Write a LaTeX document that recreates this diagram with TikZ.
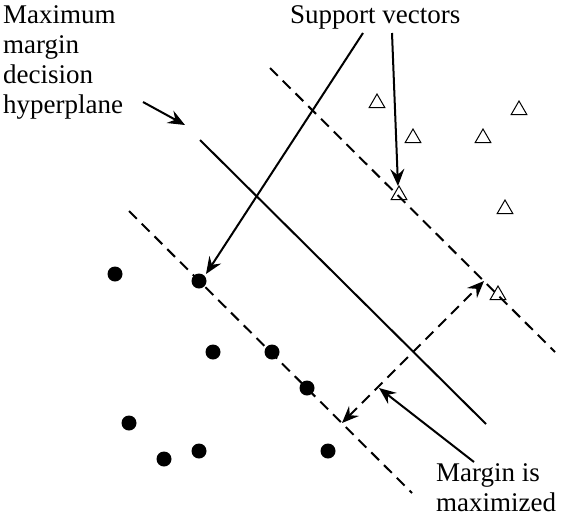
\documentclass[tikz,border=0pt]{standalone}
\usepackage{fontspec}
\setmainfont{Liberation Serif}
\usetikzlibrary{arrows.meta,shapes.geometric}
\begin{document}
\begin{tikzpicture}[x=1pt,y=-1pt,
  lbl/.style={inner sep=0pt,font=\fontsize{27}{30}\selectfont,align=left},
  dot/.style={circle,fill=black,inner sep=0pt,minimum size=15pt},
  tri/.style={regular polygon,regular polygon sides=3,draw=black,line width=1pt,inner sep=0pt,minimum size=18pt},
  hyper/.style={line width=2pt},
  marginline/.style={line width=2pt,dash pattern=on 11pt off 7pt},
  svmtip/.tip={Stealth[length=17pt,width=14pt,inset=6pt]},
  ptr/.style={line width=2pt,-svmtip},
  bothptr/.style={line width=2pt,dash pattern=on 11pt off 7pt,svmtip-svmtip}]
\useasboundingbox (0,0) rectangle (562,517);
% hyperplanes
\coordinate (h1) at (200,140);
\coordinate (h2) at (486,424);
\coordinate (u1) at (270,68);
\coordinate (u2) at (555,352);
\coordinate (l1) at (129,211);
\coordinate (l2) at (412,493);
\draw[hyper] (h1) -- (h2);
\draw[marginline] (u1) -- (u2);
\draw[marginline] (l1) -- (l2);
% triangles
\node[tri] (t1) at (377,103) {};
\node[tri] (t2) at (413,138) {};
\node[tri] (t3) at (483,138) {};
\node[tri] (t4) at (519,110) {};
\node[tri] (t5) at (399,195) {};
\node[tri] (t6) at (505,209) {};
\node[tri] (t7) at (498,295) {};
% dots
\node[dot] (d1) at (115,274) {};
\node[dot] (d2) at (199,281) {};
\node[dot] (d3) at (213,352) {};
\node[dot] (d4) at (272,352) {};
\node[dot] (d5) at (307,388) {};
\node[dot] (d6) at (129,423) {};
\node[dot] (d7) at (164,459) {};
\node[dot] (d8) at (199,451) {};
\node[dot] (d9) at (328,451) {};
% labels
\node[lbl,anchor=north west] (mmdh) at (3,5) {Maximum\\margin\\decision\\hyperplane};
\node[lbl,anchor=north west] (sv) at (290,5) {Support vectors};
\node[lbl,anchor=north west] (mim) at (436,463) {Margin is\\maximized};
% arrows
\coordinate (a1s) at (143,102);
\coordinate (a1e) at (185,125);
\draw[ptr] (a1s) -- (a1e);
\coordinate (s1s) at (363,33);
\coordinate (s1e) at (206,274);
\draw[ptr] (s1s) -- (s1e);
\coordinate (s2s) at (392,33);
\coordinate (s2e) at (398,186);
\draw[ptr] (s2s) -- (s2e);
\coordinate (m1) at (342,423);
\coordinate (m2) at (484,281);
\draw[bothptr] (m1) -- (m2);
\coordinate (ms) at (474,462);
\coordinate (me) at (379,388);
\draw[ptr] (ms) -- (me);
\end{tikzpicture}
\end{document}
